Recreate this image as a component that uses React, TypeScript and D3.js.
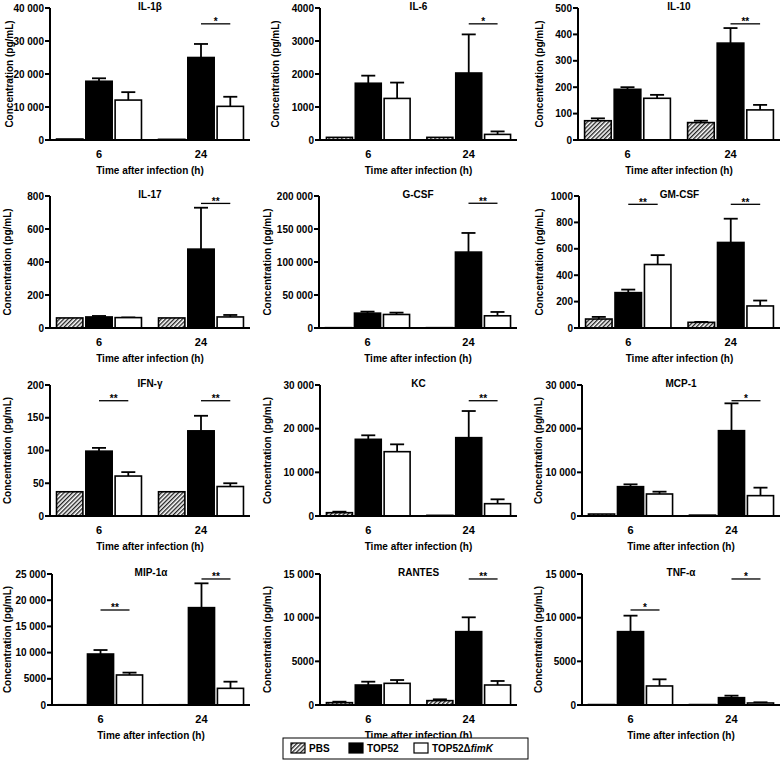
import React from "react";
import * as d3 from "d3";

// ---------- DATA ----------
const timePoints = ["6", "24"];
const groups = ["PBS", "TOP52", "TOP52ΔfimK"];
const cytokines = ["IL-1β", "IL-6", "IL-10", "IL-17", "G-CSF", "GM-CSF", "IFN-γ", "KC", "MCP-1", "MIP-1α", "RANTES", "TNF-α"];
const yMax = [40000, 4000, 500, 800, 200000, 1000, 200, 30000, 30000, 25000, 15000, 15000];
const yStep = [10000, 1000, 100, 200, 50000, 200, 50, 10000, 10000, 5000, 5000, 5000];

// values per cytokine: [6 h, 24 h]
const pbsMean = [[300, 200], [80, 80], [73, 66], [61, 61], [500, 500], [68, 43], [37, 37], [760, 150], [450, 200], [50, 50], [270, 500], [50, 50]];
const pbsErr = [[0, 0], [0, 0], [9, 7], [0, 0], [0, 0], [16, 3], [0, 0], [230, 0], [0, 0], [0, 0], [110, 150], [0, 0]];
const top52Mean = [[17800, 25000], [1720, 2030], [192, 367], [67, 478], [22500, 115000], [268, 648], [99, 130], [17560, 17940], [6720, 19540], [9730, 18580], [2290, 8400], [8400, 840]];
const top52Err = [[900, 4100], [230, 1170], [8, 57], [6, 251], [2300, 29000], [23, 180], [5, 23], [920, 6100], [530, 6260], [760, 4640], [380, 1640], [1830, 230]];
const fimKMean = [[12100, 10200], [1260, 170], [158, 114], [63, 67], [20500, 18500], [481, 167], [61, 45], [14730, 2820], [5040, 4660], [5730, 3180], [2480, 2290], [2180, 230]];
const fimKErr = [[2400, 2900], [480, 90], [13, 19], [1, 12], [2800, 5800], [71, 41], [6, 5], [1680, 1000], [530, 1830], [450, 1270], [380, 460], [760, 80]];

// significance brackets (TOP52 vs TOP52ΔfimK)
const sigPanel = [0, 1, 2, 3, 4, 5, 5, 6, 6, 7, 8, 9, 9, 10, 11, 11];
const sigTime = ["24", "24", "24", "24", "24", "6", "24", "6", "24", "24", "24", "6", "24", "24", "6", "24"];
const sigLabel = ["*", "*", "**", "**", "**", "**", "**", "**", "**", "**", "*", "**", "**", "**", "*", "*"];
const sigY = [35200, 3520, 440, 755, 189000, 937, 937, 176, 176, 26400, 26400, 18130, 24050, 14430, 10880, 14430];

// ---------- LAYOUT ----------
const panelAxisX = [50, 320, 578, 50, 319, 579, 50, 320, 582, 52, 320, 582];
const panelLabelX = [9, 275, 539, 7, 267, 539, 7, 267, 538, 7, 267, 538];
const colAxisEnd = [250, 517, 780];
const rowTop = [8, 196, 385, 574];
const rowZero = [140, 328, 516, 705];

const FONT = "'Liberation Sans', Arial, Helvetica, sans-serif";

const fmt = (v: number) => {
  if (v >= 10000) {
    const s = String(v);
    return s.slice(0, s.length - 3) + " " + s.slice(s.length - 3);
  }
  return String(v);
};

const fills = ["url(#hatch)", "#000", "#fff"];
const means = [pbsMean, top52Mean, fimKMean];
const errs = [pbsErr, top52Err, fimKErr];

function Panel({ i }: { i: number }) {
  const row = Math.floor(i / 3);
  const col = i % 3;
  const ax = panelAxisX[i];
  const W = colAxisEnd[col] - ax;
  const top = rowTop[row];
  const zero = rowZero[row];
  const y = d3.scaleLinear().domain([0, yMax[i]]).range([zero, top]);
  const x0 = d3.scaleBand().domain(timePoints).range([ax, ax + W]).paddingInner(0.167).paddingOuter(0.064);
  const x1 = d3.scaleBand().domain(groups).range([0, x0.bandwidth()]).paddingInner(0.1);
  const ticks = d3.range(0, yMax[i] + 1, yStep[i]);
  const bw = x1.bandwidth();

  return (
    <g>
      {timePoints.map((t, ti) =>
        groups.map((g, gi) => {
          const m = means[gi][i][ti];
          const e = errs[gi][i][ti];
          const bx = (x0(t) as number) + (x1(g) as number);
          const cx = bx + bw / 2;
          return (
            <g key={t + g}>
              {e > 0 && (
                <g stroke="#000" strokeWidth={1.8}>
                  <line x1={cx} x2={cx} y1={y(m)} y2={y(m + e)} />
                  <line x1={cx - 7} x2={cx + 7} y1={y(m + e)} y2={y(m + e)} />
                </g>
              )}
              <rect x={bx} y={y(m)} width={bw} height={Math.max(0, zero - y(m))} fill={fills[gi]} stroke="#000" strokeWidth={1.6} />
            </g>
          );
        })
      )}
      <line x1={ax} x2={ax} y1={zero + 1} y2={top} stroke="#000" strokeWidth={2} />
      {ticks.map((v) => (
        <g key={v}>
          <line x1={ax - 5} x2={ax} y1={y(v)} y2={y(v)} stroke="#000" strokeWidth={2} />
          <text x={ax - 6} y={y(v)} dy="0.35em" textAnchor="end" fontSize={10} fontWeight="bold">
            {fmt(v)}
          </text>
        </g>
      ))}
      <line x1={ax - 1} x2={ax + W} y1={zero} y2={zero} stroke="#000" strokeWidth={2} />
      {timePoints.map((t) => (
        <text key={t} x={(x0(t) as number) + x0.bandwidth() / 2} y={zero + 18} textAnchor="middle" fontSize={11} fontWeight="bold">
          {t}
        </text>
      ))}
      <text x={ax + W / 2} y={zero + 34} textAnchor="middle" fontSize={10} fontWeight="bold">
        Time after infection (h)
      </text>
      <text x={ax + W / 2} y={top + 2} textAnchor="middle" fontSize={10} fontWeight="bold">
        {cytokines[i]}
      </text>
      <text
        transform={`translate(${panelLabelX[i]},${(top + zero) / 2}) rotate(-90)`}
        textAnchor="middle"
        dy="0.35em"
        fontSize={10}
        fontWeight="bold"
      >
        Concentration (pg/mL)
      </text>
      {sigPanel.map((p, k) => {
        if (p !== i) return null;
        const t = sigTime[k];
        const xa = (x0(t) as number) + (x1(groups[1]) as number) + bw / 2;
        const xb = (x0(t) as number) + (x1(groups[2]) as number) + bw / 2;
        const yy = y(sigY[k]);
        return (
          <g key={k}>
            <line x1={xa} x2={xb} y1={yy} y2={yy} stroke="#000" strokeWidth={1.3} />
            <text x={(xa + xb) / 2} y={yy + 1.5} textAnchor="middle" fontSize={10} fontWeight="bold">
              {sigLabel[k]}
            </text>
          </g>
        );
      })}
    </g>
  );
}

export default function App() {
  const legendX = [291, 349, 414];
  return (
    <svg
      width={783}
      height={764}
      style={{ position: "absolute", left: 0, top: 0, background: "#fff" }}
      fontFamily={FONT}
    >
      <defs>
        <pattern id="hatch" patternUnits="userSpaceOnUse" width={3} height={3} patternTransform="rotate(45)">
          <rect width={3} height={3} fill="#fff" />
          <line x1={0} y1={0} x2={0} y2={3} stroke="#222" strokeWidth={2.7} />
        </pattern>
      </defs>
      <rect x={0} y={0} width={783} height={764} fill="#fff" />
      {cytokines.map((_, i) => (
        <Panel key={i} i={i} />
      ))}
      <rect x={283} y={738} width={245} height={21} fill="#fff" stroke="#000" strokeWidth={1} />
      {groups.map((g, gi) => (
        <g key={g}>
          <rect x={legendX[gi]} y={743} width={14} height={10} fill={fills[gi]} stroke="#000" strokeWidth={1.2} />
          <text x={legendX[gi] + 18} y={752} fontSize={10} fontWeight="bold">
            {gi === 2 ? (
              <>
                TOP52Δ<tspan fontStyle="italic">fimK</tspan>
              </>
            ) : (
              g
            )}
          </text>
        </g>
      ))}
    </svg>
  );
}
